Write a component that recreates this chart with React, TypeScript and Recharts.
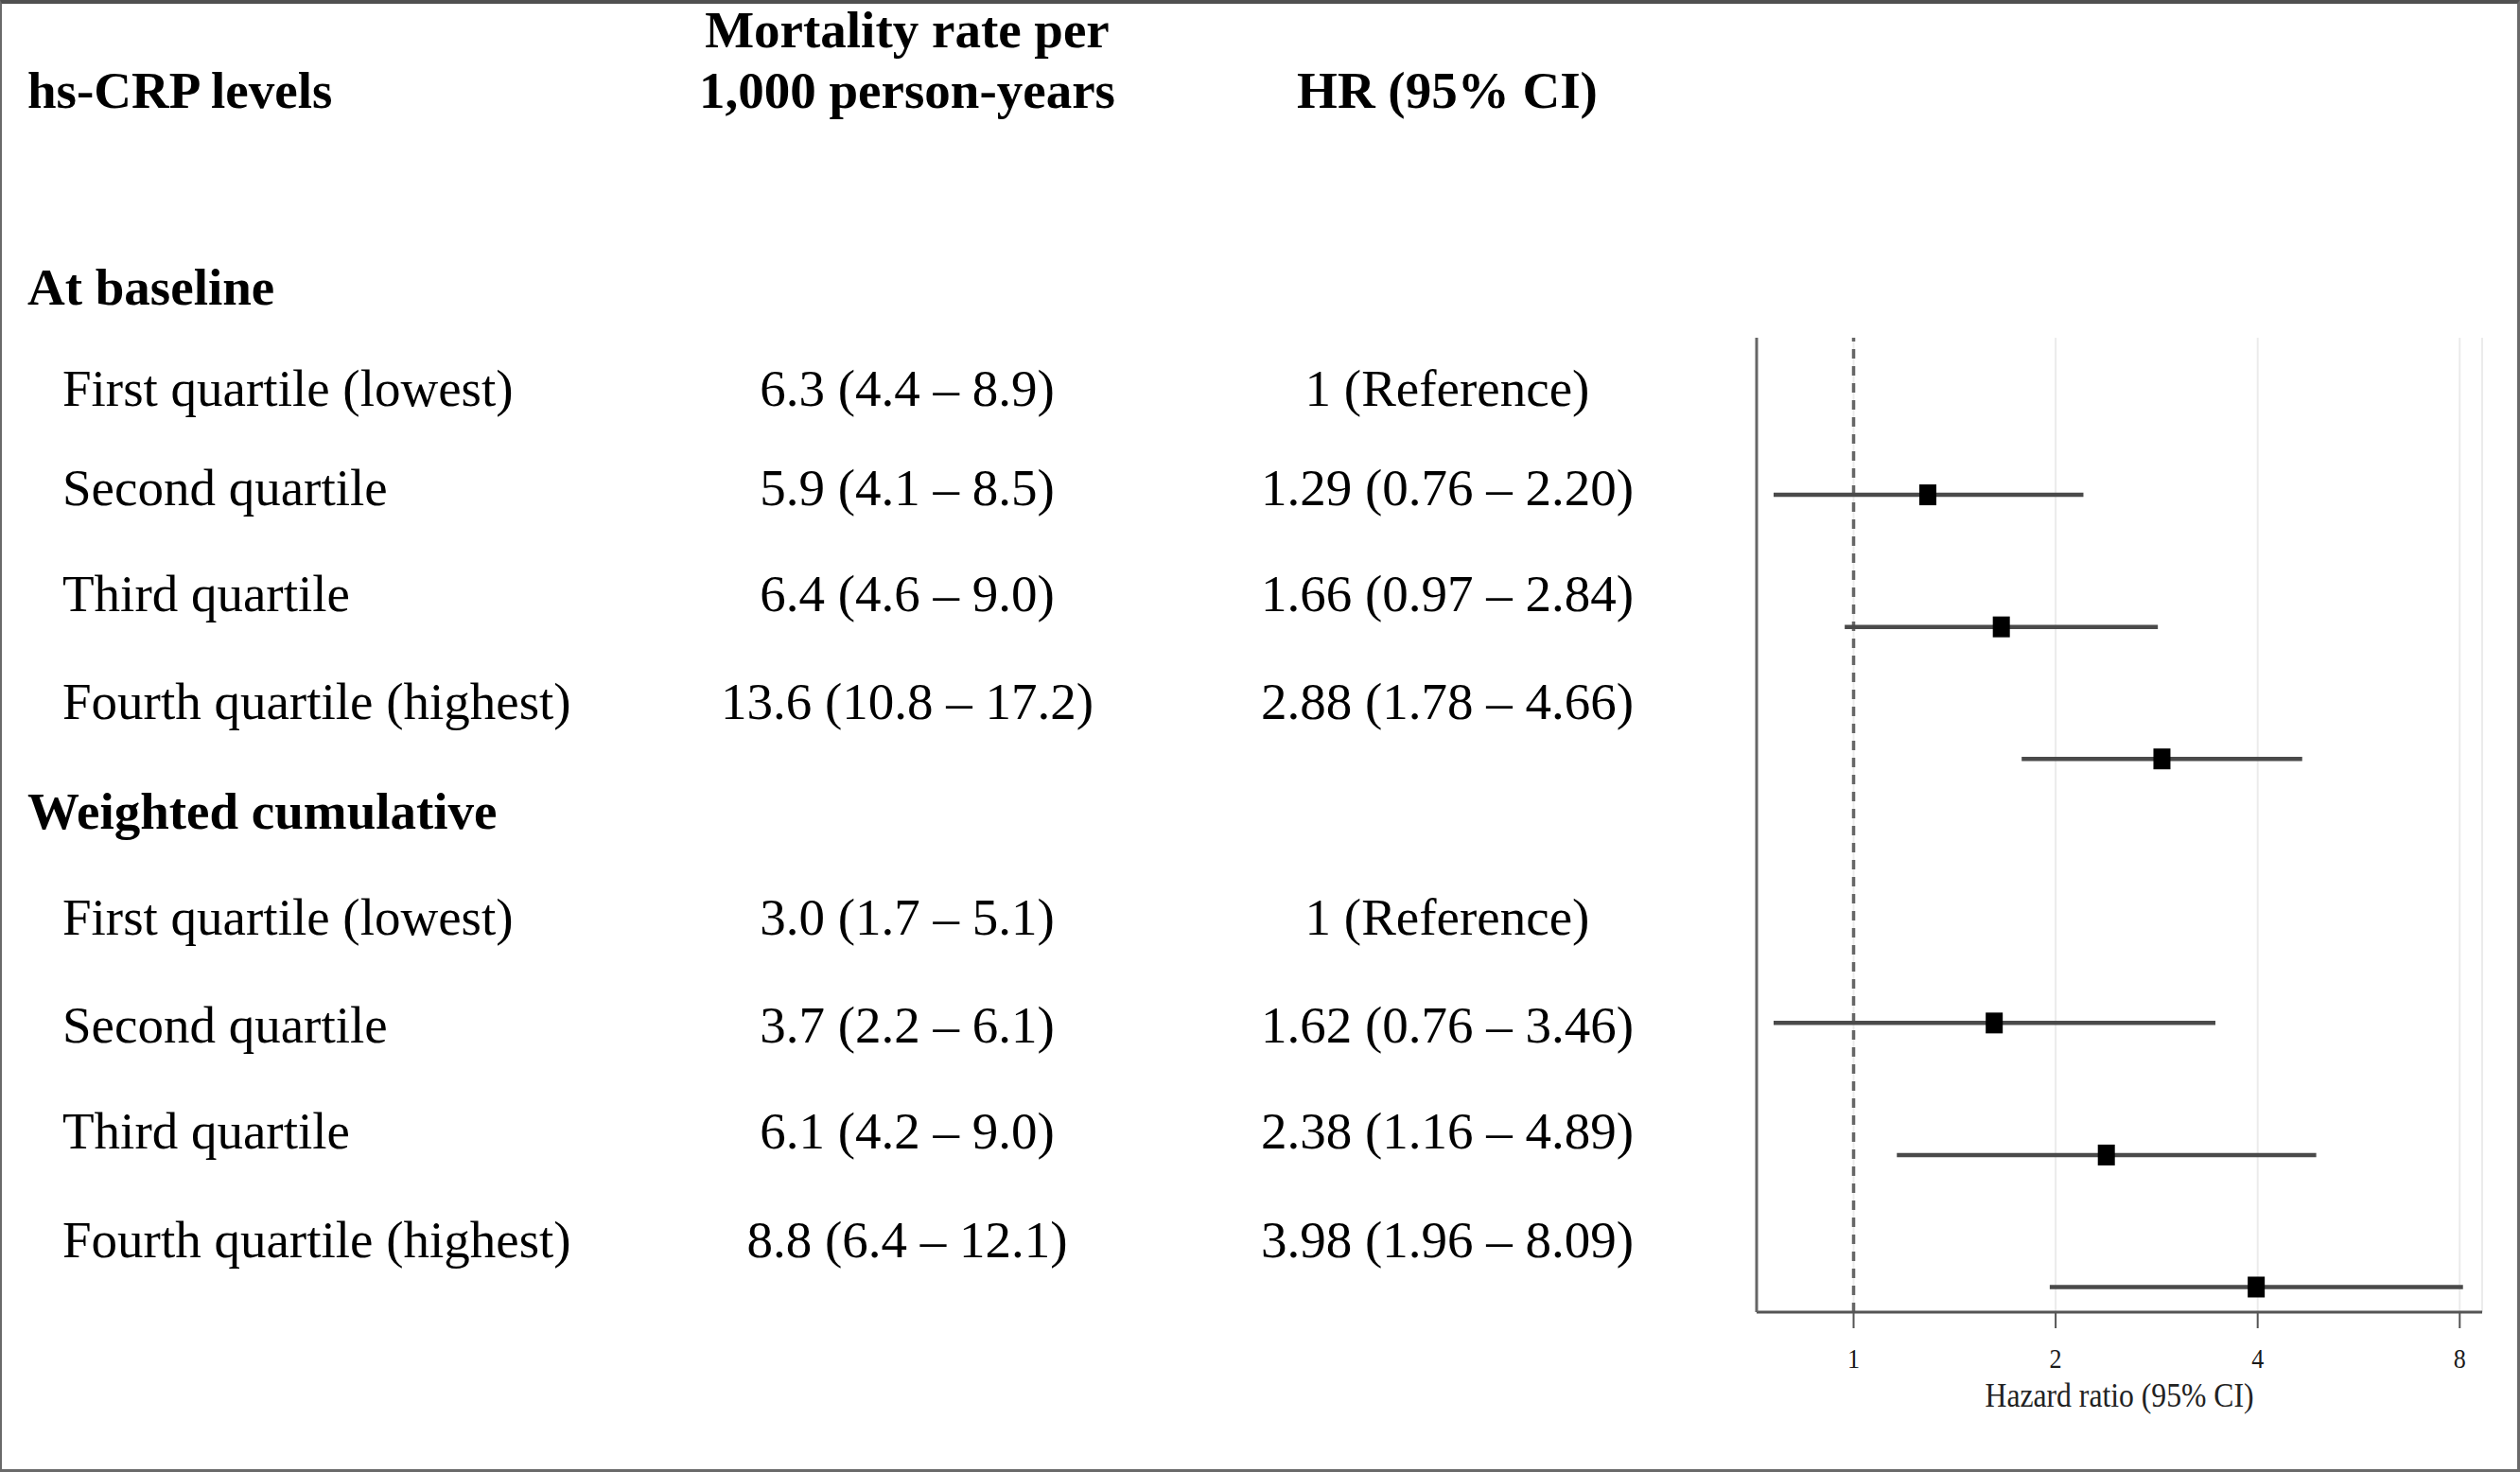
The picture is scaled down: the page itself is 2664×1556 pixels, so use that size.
import React from 'react';
import {
  ComposedChart,
  Scatter,
  ErrorBar,
  XAxis,
  YAxis,
  CartesianGrid,
  ReferenceLine,
} from 'recharts';

// ---------- data ----------
const headers = ['hs-CRP levels', 'Mortality rate per', '1,000 person-years', 'HR (95% CI)'];
const groups = ['At baseline', 'Weighted cumulative'];
const quartiles = [
  'First quartile (lowest)',
  'Second quartile',
  'Third quartile',
  'Fourth quartile (highest)',
];

const baselineRates = ['6.3 (4.4 – 8.9)', '5.9 (4.1 – 8.5)', '6.4 (4.6 – 9.0)', '13.6 (10.8 – 17.2)'];
const baselineHrText = ['1 (Reference)', '1.29 (0.76 – 2.20)', '1.66 (0.97 – 2.84)', '2.88 (1.78 – 4.66)'];
const cumulativeRates = ['3.0 (1.7 – 5.1)', '3.7 (2.2 – 6.1)', '6.1 (4.2 – 9.0)', '8.8 (6.4 – 12.1)'];
const cumulativeHrText = ['1 (Reference)', '1.62 (0.76 – 3.46)', '2.38 (1.16 – 4.89)', '3.98 (1.96 – 8.09)'];

const baselineHr = [null, 1.29, 1.66, 2.88];
const baselineLow = [null, 0.76, 0.97, 1.78];
const baselineHigh = [null, 2.2, 2.84, 4.66];
const cumulativeHr = [null, 1.62, 2.38, 3.98];
const cumulativeLow = [null, 0.76, 1.16, 1.96];
const cumulativeHigh = [null, 3.46, 4.89, 8.09];

const xTicks = [1, 2, 4, 8];
const xTitle = 'Hazard ratio (95% CI)';

// ---------- derived ----------
const rateCols = [baselineRates, cumulativeRates];
const hrCols = [baselineHrText, cumulativeHrText];
const series = [
  [baselineHr, baselineLow, baselineHigh],
  [cumulativeHr, cumulativeLow, cumulativeHigh],
];
const forestData: { row: number; hr: number; err: number[] }[] = [];
series.forEach(([hr, lo, hi], g) => {
  hr.forEach((v, q) => {
    if (v != null) {
      forestData.push({
        row: g * quartiles.length + q,
        hr: v as number,
        err: [(v as number) - (lo[q] as number), (hi[q] as number) - (v as number)],
      });
    }
  });
});
const rowTicks = forestData.map((d) => d.row);

// ---------- layout ----------
const FONT = '"Liberation Serif", "Times New Roman", serif';
const FS = 55;
const groupBaseY = [322, 876];
const rowBaseY = [
  [429, 534, 646, 760],
  [988, 1102, 1214, 1329],
];
const COL1 = 959;
const COL2 = 1530;

const XTick = (props: any) => {
  const { x, y, payload } = props;
  return (
    <text
      transform={`translate(${x},${y + 42}) scale(0.9,1)`}
      textAnchor="middle"
      fontFamily={FONT}
      fontSize={29}
      fill="#1a1a1a"
    >
      {payload.value}
    </text>
  );
};

const XLabel = (props: any) => {
  const vb = props.viewBox || {};
  const cx = vb.x + vb.width / 2;
  const by = vb.y + 100;
  return (
    <text
      transform={`translate(${cx},${by}) scale(0.88,1)`}
      textAnchor="middle"
      fontFamily={FONT}
      fontSize={36}
      fill="#222"
    >
      {xTitle}
    </text>
  );
};

const Square = (props: any) => {
  const { cx, cy } = props;
  if (cx == null || cy == null) return null;
  return <rect x={cx - 9} y={cy - 11} width={18} height={22} fill="#000" />;
};

export default function App() {
  return (
    <div
      style={{
        position: 'absolute',
        left: 0,
        top: 0,
        width: 2664,
        height: 1556,
        background: '#fff',
        overflow: 'hidden',
      }}
    >
      <svg width={2664} height={1556} style={{ position: 'absolute', left: 0, top: 0 }}>
        <g fontFamily={FONT} fill="#000">
          <text x={29} y={114} fontSize={FS} fontWeight="bold">{headers[0]}</text>
          <text x={COL1} y={50} fontSize={FS} fontWeight="bold" textAnchor="middle">{headers[1]}</text>
          <text x={COL1} y={114} fontSize={FS} fontWeight="bold" textAnchor="middle">{headers[2]}</text>
          <text x={COL2} y={114} fontSize={FS} fontWeight="bold" textAnchor="middle">{headers[3]}</text>
          {groups.map((g, gi) => (
            <g key={g}>
              <text x={29} y={groupBaseY[gi]} fontSize={FS} fontWeight="bold">{g}</text>
              {quartiles.map((q, qi) => (
                <g key={q}>
                  <text x={66} y={rowBaseY[gi][qi]} fontSize={FS}>{q}</text>
                  <text x={COL1} y={rowBaseY[gi][qi]} fontSize={FS} textAnchor="middle">{rateCols[gi][qi]}</text>
                  <text x={COL2} y={rowBaseY[gi][qi]} fontSize={FS} textAnchor="middle">{hrCols[gi][qi]}</text>
                </g>
              ))}
            </g>
          ))}
        </g>
      </svg>

      <div style={{ position: 'absolute', left: 1780, top: 330 }}>
        <ComposedChart
          width={884}
          height={1226}
          data={forestData}
          margin={{ top: 27, right: 40, bottom: 49, left: 0 }}
        >
          <CartesianGrid horizontal={false} stroke="#ebebeb" strokeWidth={2} />
          <XAxis
            dataKey="hr"
            type="number"
            scale="log"
            domain={[0.717, 8.64]}
            allowDataOverflow
            ticks={xTicks}
            interval={0}
            height={120}
            tickSize={17}
            tickMargin={0}
            axisLine={{ stroke: '#555', strokeWidth: 3 }}
            tickLine={{ stroke: '#555', strokeWidth: 2 }}
            tick={<XTick />}
            label={{ value: xTitle, content: <XLabel /> }}
          />
          <YAxis
            dataKey="row"
            type="number"
            domain={[-0.19, 7.19]}
            reversed
            allowDataOverflow
            ticks={rowTicks}
            interval={0}
            width={77}
            tickSize={7}
            tick={false}
            axisLine={{ stroke: '#666', strokeWidth: 3 }}
            tickLine={{ stroke: '#666', strokeWidth: 2 }}
          />
          <ReferenceLine x={1} stroke="#666" strokeWidth={3.5} strokeDasharray="10 8" ifOverflow="extendDomain" />
          <Scatter dataKey="hr" shape={<Square />} isAnimationActive={false}>
            <ErrorBar dataKey="err" direction="x" width={0} stroke="#4a4a4a" strokeWidth={4.5} isAnimationActive={false} />
          </Scatter>
        </ComposedChart>
      </div>

      <div
        style={{
          position: 'absolute',
          left: 0,
          top: 0,
          width: 2664,
          height: 1556,
          boxSizing: 'border-box',
          borderTop: '4px solid #505050',
          borderLeft: '2px solid #6a6a6a',
          borderRight: '3px solid #6a6a6a',
          borderBottom: '3px solid #6a6a6a',
          pointerEvents: 'none',
        }}
      />
    </div>
  );
}
